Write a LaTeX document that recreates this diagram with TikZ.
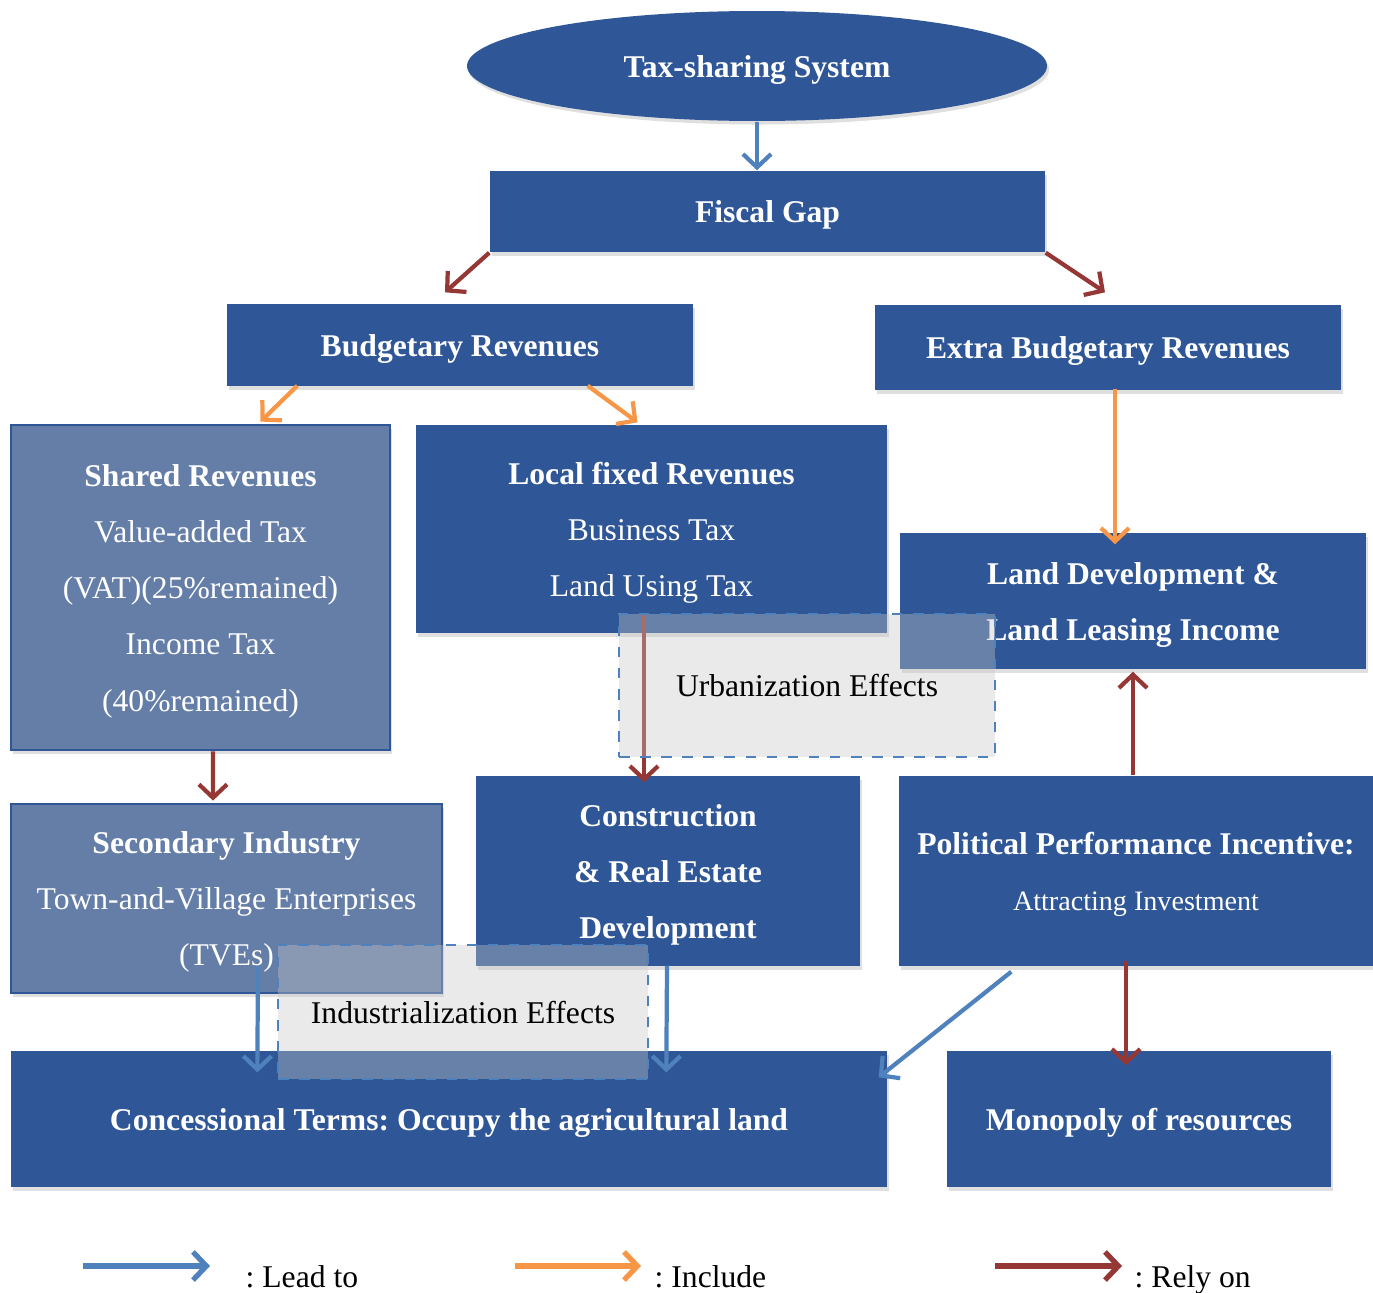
\documentclass[tikz,border=0pt]{standalone}
\usepackage{fontspec}
\setmainfont{Liberation Serif}
\frenchspacing
\usetikzlibrary{calc,shadows,arrows.meta,shapes.geometric}
\definecolor{boxblue}{RGB}{47,87,151}
\definecolor{boxlight}{RGB}{100,126,168}
\definecolor{leadblue}{RGB}{79,129,189}
\definecolor{inclorange}{RGB}{247,150,70}
\definecolor{relyred}{RGB}{149,55,53}
\definecolor{effectgray}{RGB}{199,199,199}
\newcommand{\firststrut}{\rule{0pt}{8.4pt}}
\tikzset{
  boxtext/.style={align=center, inner sep=0pt, font=\fontsize{9}{16}\selectfont,
    execute at begin node={\rule{0pt}{8.4pt}},
    execute at end node={\rule[-2pt]{0pt}{2pt}}},
  darkbox/.style={rectangle, fill=boxblue, text=white, boxtext,
    drop shadow={opacity=0.25, shadow xshift=0.6pt, shadow yshift=-1pt}},
  lightbox/.style={darkbox, fill=boxlight, draw=boxblue, line width=0.8pt},
  effectbox/.style={rectangle, draw=leadblue, dashed, line width=0.5pt, fill=effectgray,
    fill opacity=0.375, draw opacity=1, text opacity=1, boxtext},
  arrowline/.style={line width=1.2pt, -{Straight Barb[length=3.8pt,width=8pt]}},
  leadto/.style={arrowline, draw=leadblue},
  incl/.style={arrowline, draw=inclorange},
  relyon/.style={arrowline, draw=relyred},
  legendtext/.style={anchor=base west, inner sep=0pt, font=\fontsize{9}{16}\selectfont},
}
\begin{document}
\begin{tikzpicture}[x=0.1mm, y=-0.1mm]
  \useasboundingbox (0,0) rectangle (1373,1292);

  % Top of the chain
  \node[darkbox, ellipse, minimum width=58mm, minimum height=11mm] (tax) at (757,66) {\textbf{Tax-sharing System}};
  \node[darkbox, minimum width=55.5mm, minimum height=8.1mm] (fiscal) at (767.5,211.5) {\textbf{Fiscal Gap}};
  \node[darkbox, minimum width=46.6mm, minimum height=8.2mm] (budget) at (460,345) {\textbf{Budgetary Revenues}};
  \node[darkbox, minimum width=46.6mm, minimum height=8.5mm] (extra) at (1108,347.5) {\textbf{Extra Budgetary Revenues}};

  % Revenue boxes
  \node[lightbox, minimum width=37.9mm, minimum height=32.5mm] (shared) at (200.5,587.5)
    {\firststrut\textbf{Shared Revenues}\\Value-added Tax\\(VAT)(25\%remained)\\Income Tax\\(40\%remained)};
  \node[darkbox, minimum width=47.1mm, minimum height=20.8mm] (local) at (651.5,529)
    {\firststrut\textbf{Local fixed Revenues}\\Business Tax\\Land Using Tax};
  \node[darkbox, minimum width=46.6mm, minimum height=13.6mm] (landdev) at (1133,601)
    {\firststrut\textbf{Land Development \&}\\\textbf{Land Leasing Income}};

  % Middle row
  \node[lightbox, minimum width=43.1mm, minimum height=18.9mm] (second) at (226.5,898.5)
    {\firststrut\textbf{Secondary Industry}\\Town-and-Village Enterprises\\(TVEs)};
  \node[darkbox, minimum width=38.4mm, minimum height=19mm] (constr) at (668,871)
    {\firststrut\textbf{Construction}\\\textbf{\& Real Estate}\\\textbf{Development}};
  \node[darkbox, minimum width=47.4mm, minimum height=19mm] (polit) at (1136,871)
    {\firststrut\textbf{Political Performance Incentive:}\\{\fontsize{8}{16}\selectfont Attracting Investment}};

  % Bottom row
  \node[darkbox, minimum width=87.6mm, minimum height=13.6mm] (conc) at (449,1119)
    {\textbf{Concessional Terms: Occupy the agricultural land}};
  \node[darkbox, minimum width=38.4mm, minimum height=13.6mm] (monop) at (1139,1119)
    {\textbf{Monopoly of resources}};

  % Connectors
  \draw[leadto] (tax.south) -- (tax.south |- fiscal.north);
  \draw[relyon] (fiscal.south west) -- ($(budget.north)+(-15,-11)$);
  \draw[relyon] (fiscal.south east) -- ($(extra.north)+(-3,-12)$);
  \draw[incl] ($(budget.south west)+(71,-1)$) -- ($(shared.north)+(60,-2)$);
  \draw[incl] ($(budget.south east)+(-106,-1)$) -- ($(local.north)+(-14,-2)$);
  \draw[incl] ($(extra.south)+(7,-2)$) -- ($(landdev.north)+(-18,12)$);
  \draw[relyon] ($(shared.south)+(12.5,0)$) -- ($(second.north)+(-13.5,-2)$);
  \draw[relyon] ($(local.south)+(-7.5,-19)$) -- ($(constr.north)+(-24,7)$);
  \draw[relyon] ($(polit.north)+(-3,0)$) -- ($(landdev.south)+(0,2)$);
  \draw[relyon] ($(polit.south)+(-10,-6)$) -- ($(monop.north)+(-13,15)$);
  \draw[leadto] ($(polit.south west)+(113,5)$) -- ($(conc.north east)+(-9,27)$);
  \draw[leadto] ($(second.south)+(31.5,-28)$) -- ($(conc.north west)+(247,22)$);
  \draw[leadto] ($(constr.south)+(-1,-1)$) -- ($(conc.north west)+(656,22)$);

  % Effect boxes on top
  \node[effectbox, minimum width=37.6mm, minimum height=14.3mm] (urban) at (807,685.5) {Urbanization Effects};
  \node[effectbox, minimum width=37mm, minimum height=13.4mm] (indus) at (463,1012) {Industrialization Effects};

  % Legend
  \coordinate (leadA) at (83,1266);
  \coordinate (leadB) at (210,1266);
  \coordinate (inclA) at (515,1266);
  \coordinate (inclB) at (641,1266);
  \coordinate (relyA) at (995,1266);
  \coordinate (relyB) at (1122,1266);
  \draw[leadto, line width=1.5pt] (leadA) -- (leadB);
  \draw[incl, line width=1.5pt] (inclA) -- (inclB);
  \draw[relyon, line width=1.5pt] (relyA) -- (relyB);
  \node[legendtext] (leadtxt) at (245,1287) {: Lead to};
  \node[legendtext] (incltxt) at (654,1287) {: Include};
  \node[legendtext] (relytxt) at (1134,1287) {: Rely on};
\end{tikzpicture}
\end{document}
